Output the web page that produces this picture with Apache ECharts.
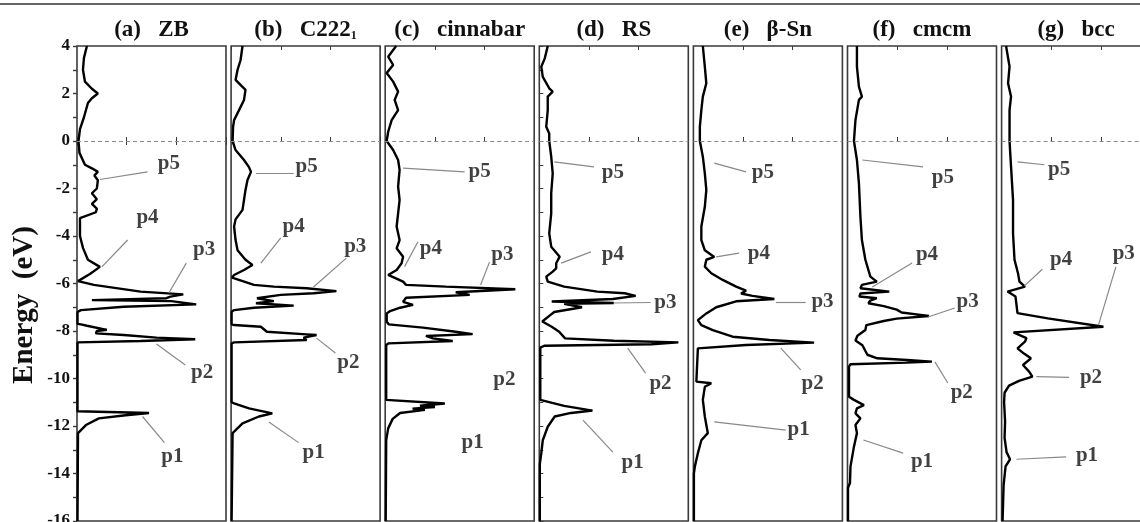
<!DOCTYPE html>
<html>
<head>
<meta charset="utf-8">
<script src="https://cdn.jsdelivr.net/npm/echarts/dist/echarts.min.js"></script>
<style>
  html, body { margin: 0; padding: 0; background: #fff; }
  #chart { width: 1140px; height: 522px; }
</style>
</head>
<body>
<div id="chart"></div>
<script>
// Energy axis (eV) and DOS axis ranges shared by every panel
const energyMin = -16, energyMax = 4, energyStep = 1;
const dosMin = 0, dosMax = 3, dosStep = 1;

const panelTags = ['(a)', '(b)', '(c)', '(d)', '(e)', '(f)', '(g)'];
const phaseNames = ['ZB', 'C222', 'cinnabar', 'RS', 'β-Sn', 'cmcm', 'bcc'];
const phaseSubscripts = ['', '1', '', '', '', '', ''];

// Density of states, [DOS, energy] pairs from top (4 eV) to bottom (-16 eV)
const dosZB = [[0.2,4],[0.14,3.5],[0.12,3],[0.16,2.5],[0.3,2.2],[0.42,2.0],[0.3,1.8],[0.22,1.6],[0.14,1],[0.06,0.5],[0.03,0],[0.05,-0.5],[0.16,-1],[0.3,-1.15],[0.42,-1.3],[0.35,-1.45],[0.42,-1.65],[0.4,-2],[0.3,-2.2],[0.4,-2.45],[0.3,-2.65],[0.4,-2.85],[0.38,-3.0],[0.06,-3.25],[0.06,-3.5],[0.06,-4],[0.12,-4.5],[0.22,-5],[0.46,-5.3],[0.26,-5.6],[0.02,-5.9],[0.34,-6.06],[1.28,-6.34],[2.14,-6.46],[1.88,-6.55],[1.8,-6.62],[0.3,-6.7],[1.9,-6.74],[2.4,-6.88],[0.94,-6.98],[0.08,-7.12],[0.01,-7.2],[0.01,-7.7],[0.08,-7.72],[0.2,-7.78],[0.6,-7.95],[0.4,-8.0],[0.38,-8.1],[0.94,-8.17],[1.6,-8.28],[2.38,-8.35],[1.28,-8.42],[0.01,-8.48],[0.01,-11.38],[1.45,-11.45],[1.48,-11.5],[0.98,-11.55],[0.44,-11.68],[0.18,-11.96],[0.02,-12.3],[0.01,-16]];
const dosC2221 = [[0.23,4],[0.19,3.4],[0.13,3.0],[0.09,2.57],[0.29,2.15],[0.26,1.73],[0.16,1.3],[0.06,0.88],[0.04,0.6],[0.03,0],[0.09,-0.38],[0.26,-0.8],[0.36,-1.1],[0.4,-1.3],[0.33,-1.64],[0.29,-2.06],[0.26,-2.48],[0.23,-2.9],[0.09,-3.3],[0.06,-3.6],[0.09,-4.17],[0.13,-4.6],[0.29,-5.0],[0.43,-5.22],[0.26,-5.43],[0.06,-5.64],[0.02,-5.75],[0.46,-6.06],[0.86,-6.13],[1.52,-6.2],[2.12,-6.32],[1.66,-6.41],[1.0,-6.48],[0.52,-6.62],[0.86,-6.74],[0.5,-6.83],[1.26,-6.93],[0.46,-7.02],[0.06,-7.12],[0.01,-7.19],[0.01,-7.72],[0.06,-7.75],[0.6,-7.82],[0.72,-8.03],[1.52,-8.14],[1.72,-8.17],[1.46,-8.28],[1.52,-8.38],[0.06,-8.48],[0.01,-8.52],[0.01,-11.0],[0.06,-11.05],[0.36,-11.26],[0.83,-11.47],[0.56,-11.6],[0.23,-11.89],[0.03,-12.3],[0.01,-16]];
const dosCinnabar = [[0.22,4],[0.06,3.55],[0.16,3.2],[0.03,2.86],[0.16,2.5],[0.26,2.08],[0.19,1.73],[0.26,1.3],[0.13,0.88],[0.06,0.39],[0.03,0],[0.16,-0.38],[0.26,-0.8],[0.29,-1.22],[0.26,-1.92],[0.29,-2.48],[0.26,-3.05],[0.23,-3.6],[0.29,-4.17],[0.23,-4.52],[0.36,-4.87],[0.33,-5.15],[0.23,-5.43],[0.06,-5.64],[0.36,-5.92],[0.42,-6.06],[1.22,-6.13],[2.62,-6.24],[1.42,-6.37],[1.7,-6.48],[0.42,-6.6],[0.36,-6.77],[0.56,-6.9],[0.3,-7.02],[0.1,-7.16],[0.03,-7.26],[0.03,-7.61],[0.07,-7.72],[0.76,-7.86],[1.42,-8.03],[1.76,-8.13],[0.82,-8.21],[0.96,-8.31],[1.36,-8.42],[0.07,-8.52],[0.02,-8.59],[0.02,-10.9],[1.2,-11.05],[0.7,-11.15],[1.0,-11.2],[0.55,-11.27],[0.8,-11.32],[0.3,-11.45],[0.15,-11.7],[0.06,-12.1],[0.02,-12.6],[0.01,-16]];
const dosRS = [[0.17,4],[0.11,3.48],[0.04,3.13],[0.07,2.7],[0.2,2.22],[0.27,2.08],[0.17,1.87],[0.17,1.3],[0.14,0.6],[0.2,0.32],[0.2,0],[0.24,-0.66],[0.27,-1.36],[0.24,-2.2],[0.24,-3.05],[0.2,-3.89],[0.24,-4.45],[0.41,-4.87],[0.34,-5.15],[0.34,-5.36],[0.27,-5.5],[0.14,-5.71],[0.17,-5.92],[0.5,-6.13],[1.17,-6.34],[1.72,-6.41],[1.94,-6.52],[1.48,-6.65],[0.25,-6.76],[1.5,-6.82],[0.5,-6.86],[0.86,-7.0],[0.3,-7.2],[0.22,-7.33],[0.06,-7.6],[0.25,-7.82],[0.4,-8.03],[0.52,-8.31],[1.5,-8.41],[2.8,-8.48],[2.26,-8.56],[0.1,-8.62],[0.02,-8.7],[0.02,-10.9],[0.5,-11.15],[1.07,-11.35],[0.64,-11.45],[0.31,-11.6],[0.17,-12.03],[0.07,-12.6],[0.04,-13.15],[0.01,-13.6],[0.01,-16]];
const dosBetaSn = [[0.19,4],[0.23,3.13],[0.26,2.43],[0.19,1.87],[0.16,1.3],[0.13,0.6],[0.13,0],[0.19,-0.66],[0.23,-1.36],[0.26,-2.06],[0.23,-2.77],[0.16,-3.6],[0.16,-4.17],[0.23,-4.6],[0.42,-4.88],[0.26,-5.0],[0.23,-5.29],[0.36,-5.57],[0.59,-5.85],[0.86,-6.13],[1.06,-6.3],[0.96,-6.42],[1.19,-6.52],[1.63,-6.65],[0.86,-6.75],[0.46,-7.0],[0.26,-7.26],[0.09,-7.54],[0.16,-7.75],[0.39,-7.96],[0.79,-8.24],[1.53,-8.38],[2.43,-8.49],[1.06,-8.59],[0.09,-8.73],[0.06,-8.8],[0.06,-10.13],[0.36,-10.2],[0.23,-10.35],[0.19,-10.9],[0.23,-11.6],[0.29,-12.3],[0.16,-12.6],[0.09,-13.15],[0.03,-13.7],[0.01,-14],[0.01,-16]];
const dosCmcm = [[0.19,4],[0.19,3.13],[0.23,2.29],[0.29,1.87],[0.23,1.73],[0.16,0.88],[0.13,0],[0.19,-0.8],[0.23,-1.78],[0.26,-3.19],[0.29,-4.17],[0.36,-5.0],[0.46,-5.71],[0.59,-5.92],[0.29,-6.06],[0.26,-6.2],[0.84,-6.34],[0.26,-6.42],[0.24,-6.55],[0.59,-6.62],[0.46,-6.72],[0.42,-6.83],[0.73,-6.95],[0.99,-7.1],[1.09,-7.22],[1.39,-7.3],[1.64,-7.37],[0.99,-7.48],[0.73,-7.58],[0.38,-7.75],[0.36,-7.96],[0.2,-8.2],[0.16,-8.4],[0.3,-8.6],[0.4,-9.0],[0.6,-9.15],[1.2,-9.22],[1.7,-9.29],[1.19,-9.33],[0.06,-9.4],[0.03,-9.5],[0.03,-10.77],[0.13,-10.9],[0.33,-11.12],[0.19,-11.26],[0.16,-11.47],[0.26,-11.68],[0.16,-11.96],[0.19,-12.3],[0.13,-12.87],[0.06,-13.71],[0.05,-14.4],[0.01,-14.6],[0.01,-16]];
const dosBcc = [[0.09,4],[0.16,3.13],[0.13,2.43],[0.19,1.87],[0.16,1.3],[0.16,0],[0.19,-1.08],[0.23,-2.48],[0.23,-3.89],[0.26,-5.0],[0.33,-5.57],[0.36,-5.92],[0.47,-6.13],[0.12,-6.34],[0.28,-6.55],[0.3,-6.9],[0.32,-7.25],[0.93,-7.47],[2.05,-7.82],[0.24,-8.06],[0.5,-8.3],[0.47,-8.45],[0.32,-8.73],[0.45,-8.95],[0.59,-9.15],[0.43,-9.43],[0.55,-9.7],[0.62,-9.92],[0.35,-10.1],[0.15,-10.3],[0.06,-10.6],[0.05,-11],[0.07,-11.8],[0.06,-12.5],[0.1,-13.1],[0.17,-13.4],[0.08,-13.7],[0.04,-14.5],[0.02,-16]];

// Peak names placed at [name, DOS, energy]
const peaksZB = [['p5',1.85,-0.95],['p4',1.42,-3.24],['p3',2.56,-4.59],['p2',2.52,-9.77],['p1',1.92,-13.3]];
const peaksC2221 = [['p5',1.52,-1.09],['p4',1.26,-3.62],['p3',2.5,-4.46],['p2',2.36,-9.35],['p1',1.66,-13.14]];
const peaksCinnabar = [['p5',1.9,-1.3],['p4',0.92,-4.52],['p3',2.36,-4.8],['p2',2.4,-10.06],['p1',1.76,-12.7]];
const peaksRS = [['p5',1.48,-1.35],['p4',1.48,-4.8],['p3',2.54,-6.82],['p2',2.44,-10.2],['p1',1.88,-13.56]];
const peaksBetaSn = [['p5',1.4,-1.35],['p4',1.32,-4.72],['p3',2.6,-6.78],['p2',2.4,-10.2],['p1',2.12,-12.17]];
const peaksCmcm = [['p5',1.92,-1.56],['p4',1.6,-4.8],['p3',2.42,-6.78],['p2',2.3,-10.6],['p1',1.5,-13.5]];
const peaksBcc = [['p5',1.16,-1.2],['p4',1.2,-5.0],['p3',2.46,-4.75],['p2',1.8,-9.95],['p1',1.72,-13.25]];

// Pointer arrows [tailDOS, tailEnergy, tipDOS, tipEnergy]
const arrowsZB = [[1.42,-1.3,0.46,-1.62],[1.02,-4.17,0.5,-5.3],[2.2,-5.14,1.85,-6.4],[2.18,-9.43,1.6,-8.55],[1.76,-12.7,1.32,-11.6]];
const arrowsC2221 = [[1.26,-1.35,0.5,-1.35],[1.0,-4.08,0.6,-5.14],[2.32,-4.93,1.66,-6.15],[2.1,-8.93,1.72,-8.3],[1.36,-12.7,0.76,-11.83]];
const arrowsCinnabar = [[1.6,-1.3,0.36,-1.14],[0.66,-4.24,0.39,-5.29],[2.1,-5.1,1.92,-6.06]];
const arrowsRS = [[1.1,-1.09,0.3,-0.88],[1.04,-4.67,0.44,-5.14],[2.24,-6.8,1.5,-6.82],[2.14,-9.77,1.78,-8.72],[1.48,-13.1,0.88,-11.75]];
const arrowsBetaSn = [[1.06,-1.3,0.42,-0.93],[0.92,-4.72,0.46,-4.88],[2.26,-6.78,1.66,-6.78],[2.16,-9.64,1.76,-8.72],[1.86,-12.17,0.42,-11.83]];
const arrowsCmcm = [[1.52,-1.09,0.3,-0.8],[1.3,-5.14,0.5,-6.15],[2.16,-7.03,1.62,-7.41],[2.02,-10.19,1.76,-9.3],[1.12,-13.14,0.32,-12.59]];
const arrowsBcc = [[0.86,-1.0,0.32,-0.88],[0.82,-5.4,0.46,-6.1],[2.3,-5.3,1.95,-7.75],[1.36,-9.95,0.7,-9.92],[1.3,-13.3,0.3,-13.4]];

const panelCurves = [dosZB, dosC2221, dosCinnabar, dosRS, dosBetaSn, dosCmcm, dosBcc];
const panelPeaks = [peaksZB, peaksC2221, peaksCinnabar, peaksRS, peaksBetaSn, peaksCmcm, peaksBcc];
const panelArrows = [arrowsZB, arrowsC2221, arrowsCinnabar, arrowsRS, arrowsBetaSn, arrowsCmcm, arrowsBcc];

// ---- layout and styling ----
const FONT = '"Liberation Serif", "Times New Roman", serif';
const FRAME = '#3a3a3a';
const PANEL_LEFT = 77, PANEL_PITCH = 154.1, PANEL_W = 149, PANEL_TOP = 46, PANEL_H = 475;

const grids = [], xAxes = [], yAxes = [], series = [], graphics = [];

panelCurves.forEach((curve, i) => {
  const left = PANEL_LEFT + PANEL_PITCH * i;
  // fixed pixel boxes: the last panel runs past the right edge, the -16 label past the bottom
  grids.push({ left: left, top: PANEL_TOP, width: PANEL_W, height: PANEL_H, show: true,
    outerBoundsMode: 'none', containLabel: false,
    borderColor: FRAME, borderWidth: 1.6, backgroundColor: 'transparent' });

  const xBase = { gridIndex: i, type: 'value', min: dosMin, max: dosMax, interval: dosStep,
    axisLine: { show: false }, axisLabel: { show: false }, splitLine: { show: false },
    axisTick: { show: true, inside: true, length: 4, lineStyle: { color: FRAME, width: 1 } } };
  xAxes.push(Object.assign({}, xBase, { position: 'bottom' }));
  xAxes.push(Object.assign({}, xBase, { position: 'top' }));

  const yBase = { gridIndex: i, type: 'value', min: energyMin, max: energyMax, interval: energyStep,
    axisLine: { show: false }, splitLine: { show: false } };
  if (i === 0) {
    yAxes.push(Object.assign({}, yBase, {
      axisTick: { show: true, inside: false, length: 4, lineStyle: { color: FRAME, width: 1.2 } },
      axisLabel: { show: true, margin: 7, color: '#111', fontFamily: FONT, fontWeight: 'bold', fontSize: 17,
        formatter: v => (v % 2 === 0 ? String(v) : '') }
    }));
  } else {
    yAxes.push(Object.assign({}, yBase, {
      axisTick: { show: i === 3, inside: true, length: 4, lineStyle: { color: FRAME, width: 1 } },
      axisLabel: { show: false }
    }));
  }

  series.push({
    type: 'line', xAxisIndex: 2 * i, yAxisIndex: i, data: curve,
    showSymbol: false, symbol: 'none', silent: true, animation: false, z: 3,
    lineStyle: { color: '#000', width: 2.4 },
    markLine: { silent: true, symbol: 'none', animation: false, label: { show: false },
      lineStyle: { color: '#8c8c8c', width: 1, type: [4, 3] }, data: [{ yAxis: 0 }] }
  });

  series.push({
    type: 'scatter', xAxisIndex: 2 * i, yAxisIndex: i, silent: true, animation: false, z: 4,
    symbolSize: 1, itemStyle: { color: 'rgba(0,0,0,0)' },
    data: panelPeaks[i].map(p => ({ name: p[0], value: [p[1], p[2]] })),
    label: { show: true, position: 'inside', formatter: '{b}', color: '#111',
      fontFamily: FONT, fontWeight: 'bold', fontSize: 21 },
    markLine: { silent: true, animation: false, symbol: ['none', 'arrow'], symbolSize: [0, 7],
      label: { show: false }, lineStyle: { color: '#888', width: 1.2, type: 'solid' },
      data: panelArrows[i].map(a => [{ coord: [a[0], a[1]] }, { coord: [a[2], a[3]] }]) }
  });

  const sub = phaseSubscripts[i];
  graphics.push({
    type: 'text', x: left + PANEL_W / 2, y: 30, silent: true,
    style: {
      text: panelTags[i] + '   {m|' + phaseNames[i] + '}' + (sub ? '{s|' + sub + '}' : ''),
      align: 'center', verticalAlign: 'middle', fill: '#111',
      fontFamily: FONT, fontWeight: 'bold', fontSize: 23, lineHeight: 23,
      rich: {
        m: { fontFamily: FONT, fontWeight: 'bold', fontSize: 23, lineHeight: 23, fill: '#111' },
        s: { fontFamily: FONT, fontWeight: 'bold', fontSize: 12, lineHeight: 12, verticalAlign: 'bottom', fill: '#111' }
      }
    }
  });
});

// inward tick marks on the left edge of the first panel
yAxes.push({ gridIndex: 0, type: 'value', min: energyMin, max: energyMax, interval: energyStep,
  axisLine: { show: false }, splitLine: { show: false }, axisLabel: { show: false },
  axisTick: { show: true, inside: true, length: 4, lineStyle: { color: FRAME, width: 1.2 } } });

// rule across the top and the energy axis title
graphics.push({ type: 'line', silent: true, shape: { x1: 0, y1: 4, x2: 1140, y2: 4 },
  style: { stroke: '#666', lineWidth: 2 } });
graphics.push({ type: 'text', x: 25, y: 305, rotation: Math.PI / 2, silent: true,
  style: { text: 'Energy  (eV)', align: 'center', verticalAlign: 'middle', fill: '#111',
    fontFamily: FONT, fontWeight: 'bold', fontSize: 29 } });

const chart = echarts.init(document.getElementById('chart'), null, { renderer: 'canvas' });
chart.setOption({
  animation: false,
  backgroundColor: '#fff',
  grid: grids,
  xAxis: xAxes,
  yAxis: yAxes,
  series: series,
  graphic: graphics
});
</script>
</body>
</html>
